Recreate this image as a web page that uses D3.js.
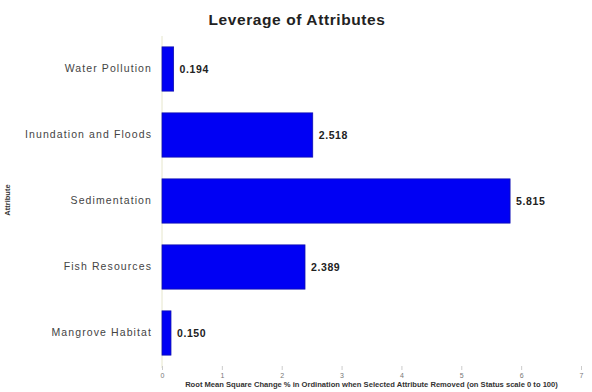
<!DOCTYPE html>
<html>
<head>
<meta charset="utf-8">
<script src="https://cdn.jsdelivr.net/npm/d3@7"></script>
<style>
  html, body { margin: 0; padding: 0; background: #fff; }
  svg { display: block; font-family: "Liberation Sans", Arial, sans-serif; }
</style>
</head>
<body>
<svg id="chart" width="592" height="392"></svg>
<script>
// Leverage analysis: RMS change in ordination when each attribute is removed
const attributes = ["Water Pollution", "Inundation and Floods", "Sedimentation", "Fish Resources", "Mangrove Habitat"];
const leverage = [0.194, 2.518, 5.815, 2.389, 0.150];
const xTicks = [0, 1, 2, 3, 4, 5, 6, 7];

const chartTitle = "Leverage of Attributes";
const xTitle = "Root Mean Square Change % in Ordination when Selected Attribute Removed (on Status scale 0 to 100)";
const yTitle = "Attribute";

const data = attributes.map((a, i) => ({ name: a, value: leverage[i] }));

const svg = d3.select("#chart");
const plot = { left: 162, right: 581, top: 36, bottom: 366 };

const x = d3.scaleLinear().domain([0, 7]).range([plot.left, plot.right]);
const y = d3.scaleBand().domain(attributes).range([plot.top, plot.bottom])
  .paddingInner(0.33).paddingOuter(0.165);

// title
svg.append("text")
  .attr("x", 297).attr("y", 25)
  .attr("text-anchor", "middle")
  .attr("font-size", 15.5).attr("font-weight", "bold")
  .attr("letter-spacing", 0.6)
  .attr("fill", "#222")
  .text(chartTitle);

// faint vertical axis line
svg.append("line")
  .attr("x1", plot.left).attr("x2", plot.left)
  .attr("y1", plot.top).attr("y2", plot.bottom + 2)
  .attr("stroke", "#e6e6cc").attr("stroke-width", 1);

// bars
svg.append("g").selectAll("rect").data(data).join("rect")
  .attr("x", x(0))
  .attr("y", d => y(d.name))
  .attr("width", d => x(d.value) - x(0))
  .attr("height", y.bandwidth())
  .attr("fill", "#0000f4")
  .attr("stroke", "#1010b0").attr("stroke-width", 0.8);

// value labels
svg.append("g").selectAll("text").data(data).join("text")
  .attr("x", d => x(d.value) + 6)
  .attr("y", d => y(d.name) + y.bandwidth() / 2 + 4)
  .attr("font-size", 10.5).attr("font-weight", "bold")
  .attr("letter-spacing", 0.6)
  .attr("fill", "#222")
  .text(d => d.value.toFixed(3));

// category labels
const yAxis = d3.axisLeft(y).tickSize(0).tickPadding(10);
const gy = svg.append("g").attr("transform", `translate(${plot.left},0)`).call(yAxis);
gy.select(".domain").remove();
gy.selectAll("text")
  .attr("font-size", 10.5).attr("fill", "#444")
  .attr("letter-spacing", 1.1)
  .attr("font-family", "Liberation Sans, Arial, sans-serif");

// x axis ticks
const xAxis = d3.axisBottom(x).tickValues(xTicks).tickSize(4).tickPadding(3).tickFormat(d3.format("d"));
const gx = svg.append("g").attr("transform", `translate(0,${plot.bottom})`).call(xAxis);
gx.select(".domain").remove();
gx.selectAll(".tick line").attr("stroke", "#ccc");
gx.selectAll("text")
  .attr("font-size", 7).attr("fill", "#777")
  .attr("font-family", "Liberation Sans, Arial, sans-serif");

// x axis title
svg.append("text")
  .attr("x", (plot.left + plot.right) / 2).attr("y", 387)
  .attr("text-anchor", "middle")
  .attr("font-size", 7.6).attr("font-weight", "bold")
  .attr("fill", "#333")
  .text(xTitle);

// y axis title
svg.append("text")
  .attr("transform", `translate(10,200) rotate(-90)`)
  .attr("text-anchor", "middle")
  .attr("font-size", 7.5).attr("font-weight", "bold")
  .attr("fill", "#333")
  .text(yTitle);
</script>
</body>
</html>
